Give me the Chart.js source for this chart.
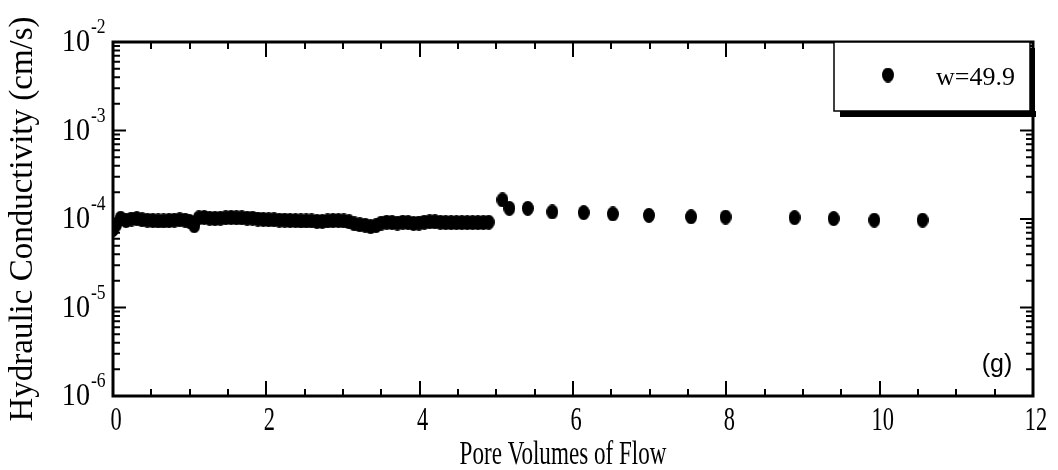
<!DOCTYPE html>
<html><head><meta charset="utf-8">
<script src="https://cdn.jsdelivr.net/npm/chart.js@4/dist/chart.umd.min.js"></script>
<style>html,body{margin:0;padding:0;background:#fff;}</style>
</head><body>
<canvas id="c" width="1058" height="470"></canvas>
<script>
// ---- data ----
const poreVolumes = [0.00,0.04,0.10,0.17,0.24,0.31,0.38,0.45,0.52,0.59,0.66,0.73,0.80,0.87,0.94,1.00,1.06,1.12,1.19,1.26,1.33,1.40,1.47,1.54,1.61,1.68,1.75,1.82,1.89,1.96,2.03,2.10,2.17,2.24,2.31,2.38,2.45,2.52,2.59,2.66,2.73,2.80,2.87,2.94,3.01,3.08,3.15,3.22,3.29,3.36,3.43,3.50,3.57,3.64,3.71,3.78,3.85,3.92,3.99,4.06,4.13,4.20,4.27,4.34,4.41,4.48,4.55,4.62,4.69,4.76,4.83,4.90,
  5.08,5.17,5.41,5.73,6.14,6.52,6.99,7.54,7.99,8.89,9.40,9.93,10.56];
const conductivity = [7.6e-5,8.6e-5,1.02e-4,9.6e-5,1.00e-4,1.01e-4,9.8e-5,9.7e-5,9.6e-5,9.5e-5,9.5e-5,9.6e-5,9.7e-5,9.8e-5,9.7e-5,9.4e-5,8.4e-5,1.03e-4,1.04e-4,1.02e-4,1.01e-4,1.02e-4,1.03e-4,1.04e-4,1.03e-4,1.03e-4,1.02e-4,1.02e-4,1.00e-4,9.9e-5,9.8e-5,9.8e-5,9.7e-5,9.7e-5,9.6e-5,9.6e-5,9.5e-5,9.5e-5,9.5e-5,9.4e-5,9.4e-5,9.5e-5,9.6e-5,9.6e-5,9.5e-5,9.3e-5,8.8e-5,8.6e-5,8.5e-5,8.2e-5,8.4e-5,9.0e-5,9.2e-5,9.1e-5,9.0e-5,9.2e-5,9.1e-5,8.9e-5,9.0e-5,9.2e-5,9.3e-5,9.3e-5,9.2e-5,9.1e-5,9.1e-5,9.1e-5,9.1e-5,9.1e-5,9.1e-5,9.1e-5,9.1e-5,9.2e-5,
  1.64e-4,1.32e-4,1.32e-4,1.20e-4,1.18e-4,1.14e-4,1.10e-4,1.06e-4,1.05e-4,1.035e-4,1.01e-4,9.7e-5,9.7e-5];
const seriesLabel = 'w=49.9';
const xTickLabels = [0,2,4,6,8,10,12];
const yTickExponents = [-6,-5,-4,-3,-2];
const xTitle = 'Pore Volumes of Flow';
const yTitle = 'Hydraulic Conductivity (cm/s)';
const panelTag = '(g)';

// ---- marker ----
function makeDot(w,h){
  const c=document.createElement('canvas');c.width=w;c.height=h;
  const g=c.getContext('2d');g.fillStyle='#000';g.beginPath();
  g.ellipse(w/2,h/2,w/2,h/2,0,0,Math.PI*2);g.fill();return c;
}
const dot = makeDot(12,15);

const SERIF = "'Liberation Serif','Times New Roman',serif";
const SANS = "'Liberation Sans',Arial,sans-serif";

function drawSqueezed(g, text, x, y, font, sx, align){
  g.save();
  g.font = font;
  g.translate(x, y);
  g.scale(sx, 1);
  g.textAlign = align; g.textBaseline = 'alphabetic';
  g.fillText(text, 0, 0);
  g.restore();
}

const decorations = {
  id:'decorations',
  afterDraw(chart){
    const g = chart.ctx, a = chart.chartArea, xs = chart.scales.x, ys = chart.scales.y;
    g.save();
    g.strokeStyle = '#000'; g.fillStyle = '#000';
    // ticks (inward, mirrored)
    g.lineWidth = 2;
    g.beginPath();
    for (let v = 0; v <= 12; v += 0.5){
      const px = Math.round(xs.getPixelForValue(v));
      const len = (v % 2 === 0) ? 15 : 7;
      g.moveTo(px, a.bottom); g.lineTo(px, a.bottom - len);
      g.moveTo(px, a.top); g.lineTo(px, a.top + len);
    }
    for (let e = -6; e <= -2; e++){
      const py = ys.getPixelForValue(Math.pow(10, e));
      g.moveTo(a.left, py); g.lineTo(a.left + 13, py);
      g.moveTo(a.right, py); g.lineTo(a.right - 13, py);
      if (e < -2){
        for (let m = 2; m <= 9; m++){
          const pm = ys.getPixelForValue(m * Math.pow(10, e));
          g.moveTo(a.left, pm); g.lineTo(a.left + 7, pm);
          g.moveTo(a.right, pm); g.lineTo(a.right - 7, pm);
        }
      }
    }
    g.stroke();
    // frame
    g.lineWidth = 3;
    g.strokeRect(a.left, a.top, a.right - a.left, a.bottom - a.top);

    // x tick labels
    xTickLabels.forEach(v => {
      drawSqueezed(g, String(v), xs.getPixelForValue(v) + 3, a.bottom + 34, '34px ' + SERIF, 0.66, 'center');
    });
    // x title
    drawSqueezed(g, xTitle, 563, 464, '33px ' + SERIF, 0.70, 'center');
    // y tick labels 10^n
    yTickExponents.forEach(e => {
      const py = ys.getPixelForValue(Math.pow(10, e));
      drawSqueezed(g, '10', 90, py + 9, '32px ' + SERIF, 0.88, 'right');
      drawSqueezed(g, String(e), 91, py - 9, '20px ' + SERIF, 0.88, 'left');
    });
    // panel tag
    g.font = '25px ' + SANS; g.textAlign = 'center'; g.textBaseline = 'alphabetic';
    g.fillText(panelTag, 997, 372);

    // legend box with shadow
    const bx = 834, by = a.top, bw = 196, bh = 69;
    g.fillStyle = '#000';
    g.fillRect(bx + 6, by + bh, bw, 6);
    g.fillRect(bx + bw, by + 6, 5, bh);
    g.fillStyle = '#fff';
    g.fillRect(bx, by, bw, bh);
    g.lineWidth = 1.5; g.strokeStyle = '#000';
    g.strokeRect(bx, by, bw, bh);
    g.drawImage(dot, 888 - 6, 75 - 7.5);
    g.fillStyle = '#000';
    g.font = '26px ' + SERIF; g.textAlign = 'left';
    g.fillText(chart.data.datasets[0].label, 936, 85);
    g.restore();
  }
};

new Chart(document.getElementById('c'), {
  type: 'scatter',
  data: {
    datasets: [{
      label: seriesLabel,
      data: poreVolumes.map((x, i) => ({x: x, y: conductivity[i]})),
      pointStyle: dot,
      pointRadius: 7,
      backgroundColor: '#000',
      borderColor: '#000'
    }]
  },
  options: {
    responsive: false,
    animation: false,
    devicePixelRatio: 1,
    layout: {padding: {top: 42, right: 25, left: 0, bottom: 0}},
    plugins: {legend: {display: false}, tooltip: {enabled: false}},
    scales: {
      x: {
        type: 'linear', min: 0, max: 12,
        grid: {display: false}, border: {display: false},
        ticks: {display: false},
        afterFit: s => { s.height = 74; }
      },
      y: {
        type: 'logarithmic', min: 1e-6, max: 1e-2,
        grid: {display: false}, border: {display: false},
        ticks: {display: false},
        title: {display: true, text: yTitle, color: '#000', font: {family: SERIF, size: 33}, padding: {top: 4, bottom: 0}},
        afterFit: s => { s.width = 113; }
      }
    }
  },
  plugins: [decorations]
});
</script>
</body></html>
